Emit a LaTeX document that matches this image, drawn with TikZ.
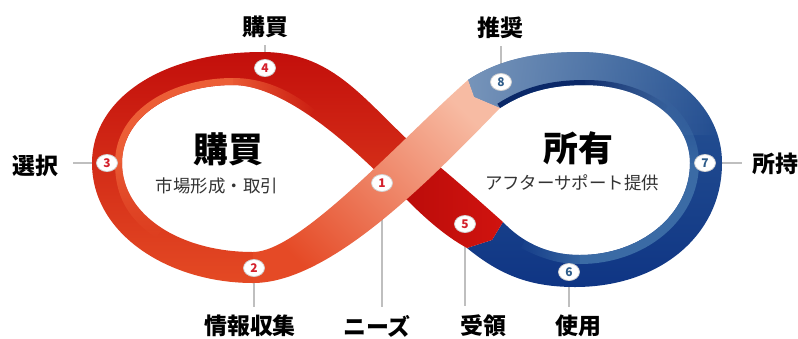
\documentclass[tikz,border=0pt]{standalone}
\usepackage{fontspec}
\setmainfont{Noto Sans CJK JP}
\usetikzlibrary{shapes.geometric,fadings}

\definecolor{redtop}{HTML}{C30F0B}
\definecolor{redmid}{HTML}{D42414}
\definecolor{redbottom}{HTML}{E44A24}
\definecolor{reddeep}{HTML}{B80B09}
\definecolor{redunder}{HTML}{D0130F}
\definecolor{orangeface}{HTML}{EC5E36}
\definecolor{strandred}{HTML}{E54A26}
\definecolor{strandsalmon}{HTML}{F39A7A}
\definecolor{strandpale}{HTML}{F7BBA3}
\definecolor{navy}{HTML}{0F3584}
\definecolor{navydark}{HTML}{0A2868}
\definecolor{bluemid}{HTML}{2B5896}
\definecolor{bluegray}{HTML}{7B98BC}
\definecolor{bluepale}{HTML}{3B6BA5}
\definecolor{numred}{HTML}{D4202C}
\definecolor{numblue}{HTML}{2F5D8A}

\tikzfading[name=fade out east, left color=transparent!0, right color=transparent!100]
\tikzfading[name=fade out west, left color=transparent!100, right color=transparent!0]
\tikzfading[name=fade out south, top color=transparent!0, bottom color=transparent!100]
\tikzfading[name=fade out north, top color=transparent!100, bottom color=transparent!0]
\tikzfading[name=fade ends, left color=transparent!100, middle color=transparent!0,
    right color=transparent!100]

% outlines of the four ribbon pieces (x right, y down)
\newcommand\leftloop{(410,142) .. controls (360,95) and (330,52) .. (262,52)
  .. controls (160,52) and (92,100) .. (92,163)
  .. controls (92,235) and (170,283) .. (253,283)
  -- (253,252)
  .. controls (180,252) and (122,215) .. (122,163)
  .. controls (122,115) and (175,85) .. (233,85)
  .. controls (280,85) and (340,135) .. (388,183) -- cycle}
\newcommand\understrand{(410,142) -- (440,167)
  .. controls (465,188) and (485,206) .. (503,222)
  -- (492,240) -- (467,248)
  .. controls (445,236) and (425,218) .. (407,200) -- (388,183) -- cycle}
\newcommand\overstrand{(253,283) -- (253,252)
  .. controls (300,252) and (400,140) .. (468,80)
  -- (474,97) -- (500,108)
  .. controls (430,180) and (330,283) .. (253,283) -- cycle}
\newcommand\rightloop{(467,248) .. controls (500,275) and (530,287) .. (575,287)
  .. controls (660,287) and (722,235) .. (722,163)
  .. controls (722,95) and (650,52) .. (580,52)
  .. controls (530,52) and (495,62) .. (468,80)
  -- (474,97) -- (500,108)
  .. controls (525,92) and (550,85) .. (585,85)
  .. controls (645,85) and (690,120) .. (690,163)
  .. controls (690,215) and (640,255) .. (580,255)
  .. controls (545,255) and (520,240) .. (503,222)
  -- (492,240) -- cycle}

\begin{document}
\begin{tikzpicture}[x=1bp,y=-1bp,
    badge/.style={ellipse, draw=black!18, line width=0.8bp, fill=white,
      minimum width=21bp, minimum height=17bp, inner sep=0pt,
      font=\bfseries\fontsize{12}{12}\selectfont},
    stagelabel/.style={font=\bfseries\fontsize{23}{23}\selectfont},
    loophead/.style={font=\bfseries\fontsize{35}{35}\selectfont},
    loopsub/.style={font=\fontsize{17.5}{17.5}\selectfont, text=black!80},
    leader/.style={draw=black!25, line width=1.2bp}]
    \useasboundingbox (0,0) rectangle (798,338);
    \fill[white] (0,0) rectangle (798,338);

    % stage labels
    \node[stagelabel] (l4) at (265,27) {購買};
    \node[stagelabel] (l8) at (500,28) {推奨};
    \node[stagelabel] (l3) at (35,166) {選択};
    \node[stagelabel] (l7) at (775,164) {所持};
    \node[stagelabel] (l2) at (250,326) {情報収集};
    \node[stagelabel] (l1) at (377,326) {ニーズ};
    \node[stagelabel] (l5) at (483,326) {受領};
    \node[stagelabel] (l6) at (578,326) {使用};

    \foreach \n/\x/\y in {1/382/183, 2/254/268, 3/107/163, 4/265/68,
                          5/465/224, 6/569/272, 7/705/163, 8/501/82} {
        \coordinate (p\n) at (\x,\y);
    }

    % leader lines, the ribbon covers their inner ends
    \draw[leader, shorten >=4bp] (p4) -- (p4 |- l4.south);
    \draw[leader, shorten >=4bp] (p8) -- (p8 |- l8.south);
    \draw[leader, shorten >=12bp] (p3) -- (p3 -| l3.east);
    \draw[leader, shorten >=7bp] (p7) -- (p7 -| l7.west);
    \foreach \n in {1,2,5,6} {
        \draw[leader, shorten >=5bp] (p\n) -- (p\n |- l\n.north);
    }

    % left loop
    \shade[top color=redtop, middle color=redmid, bottom color=redbottom] \leftloop;

    % right loop
    \shade[top color=bluemid, bottom color=navy] \rightloop;
    \begin{scope}
        \clip \rightloop;
        \fill[bluegray, path fading=fade out east] (455,40) rectangle (720,135);
        \draw[line width=10bp, navydark] (500,108) .. controls (525,92) and (550,85) .. (585,85);
        \draw[line width=10bp, navydark, path fading=fade out east]
            (585,85) .. controls (620,85) and (645,95) .. (665,110);
        \draw[line width=18bp, bluepale, path fading=fade out north]
            (650,98) .. controls (675,115) and (690,138) .. (690,163);
        \draw[line width=18bp, bluepale] (690,163) .. controls (690,215) and (640,255) .. (580,255);
        \draw[line width=18bp, bluepale, path fading=fade out west]
            (580,255) .. controls (560,255) and (545,250) .. (525,240);
    \end{scope}

    % the crossing
    \shade[left color=reddeep, right color=redunder] \understrand;
    \shade[bottom color=strandred, middle color=strandsalmon, top color=strandpale,
        shading angle=-45] \overstrand;

    % inner faces of the left loop
    \begin{scope}
        \clip \leftloop \overstrand;
        \draw[line width=14bp, orangeface, path fading=fade out east]
            (233,85) .. controls (260,85) and (285,95) .. (310,115);
        \draw[line width=14bp, orangeface] (233,85) .. controls (175,85) and (122,115) .. (122,163);
        \draw[line width=14bp, orangeface, path fading=fade out south]
            (122,163) .. controls (122,195) and (135,215) .. (160,232);
        \draw[line width=10bp, reddeep, path fading=fade ends]
            (140,218) .. controls (175,250) and (215,254) .. (253,252)
            .. controls (275,251) and (290,246) .. (305,238);
    \end{scope}

    \foreach \n/\c in {1/numred, 2/numred, 3/numred, 4/numred, 5/numred,
                       6/numblue, 7/numblue, 8/numblue} {
        \node[badge, text=\c] (c\n) at (p\n) {\n};
    }

    \node[loophead] (buyhead) at (228,149) {購買};
    \node[loopsub] (buysub) at (217,186) {市場形成・取引};
    \node[loophead] (ownhead) at (578,148) {所有};
    \node[loopsub] (ownsub) at (572,183) {アフターサポート提供};
\end{tikzpicture}
\end{document}
